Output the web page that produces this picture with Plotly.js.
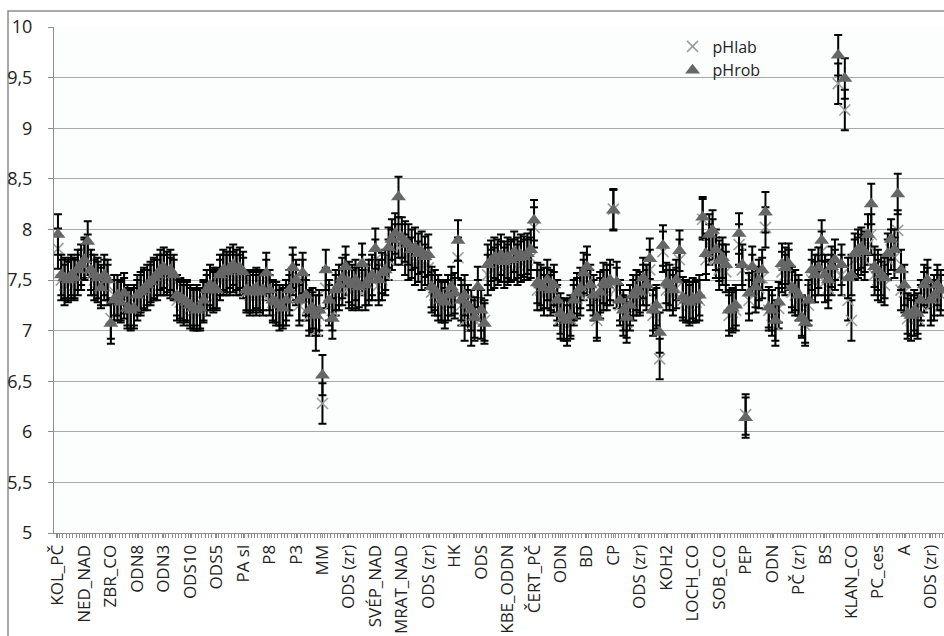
<!DOCTYPE html>
<html>
<head>
<meta charset="utf-8">
<script src="https://cdn.plot.ly/plotly-3.0.1.min.js"></script>
<style>
html,body{margin:0;padding:0;background:#fff;}
#chart{width:944px;height:636px;}
</style>
</head>
<body>
<div id="chart"></div>
<script>
// Tick labels (one label every 8 categories)
const tickLabels = ["KOL_PČ","NED_NAD","ZBR_CO","ODN8","ODN3","ODS10","ODS5","PA sl","P8","P3",
  "MM","ODS (zr)","SVÉP_NAD","MRAT_NAD","ODS (zr)","HK","ODS","KBE_ODDN","ČERT_PČ","ODN",
  "BD","CP","ODS (zr)","KOH2","LOCH_CO","SOB_CO","PEP","ODN","PČ (zr)","BS",
  "KLAN_CO","PC_ces","A","ODS (zr)"];
const labelStep = 8;

// pHrob values (triangles)
const pHrob = [
7.95,7.55,7.52,7.50,7.55,7.52,7.60,7.65,7.70,7.88,
7.60,7.55,7.52,7.42,7.55,7.50,7.07,7.30,7.35,7.28,
7.37,7.22,7.20,7.22,7.35,7.38,7.40,7.45,7.48,7.52,
7.55,7.60,7.62,7.58,7.60,7.55,7.35,7.32,7.30,7.28,
7.25,7.22,7.20,7.22,7.30,7.40,7.45,7.42,7.40,7.55,
7.60,7.58,7.62,7.65,7.60,7.62,7.58,7.40,7.38,7.40,
7.42,7.38,7.40,7.57,7.40,7.30,7.28,7.25,7.22,7.30,
7.40,7.62,7.50,7.30,7.57,7.35,7.20,7.22,7.15,7.20,
6.56,7.60,7.30,7.12,7.40,7.45,7.52,7.63,7.48,7.45,
7.50,7.43,7.66,7.45,7.50,7.55,7.81,7.50,7.57,7.60,
7.82,7.90,7.96,8.32,7.92,7.88,7.85,7.80,7.82,7.76,
7.78,7.73,7.75,7.43,7.40,7.35,7.30,7.28,7.35,7.43,
7.37,7.89,7.30,7.35,7.25,7.20,7.13,7.43,7.20,7.07,
7.65,7.69,7.72,7.70,7.75,7.68,7.72,7.70,7.78,7.72,
7.75,7.73,7.76,7.80,8.09,7.47,7.45,7.42,7.50,7.40,
7.45,7.30,7.17,7.12,7.10,7.15,7.30,7.37,7.42,7.57,
7.63,7.45,7.35,7.13,7.38,7.47,7.45,7.50,8.19,7.48,
7.30,7.20,7.13,7.25,7.35,7.40,7.38,7.52,7.45,7.71,
7.20,7.25,6.98,7.84,7.47,7.45,7.40,7.50,7.79,7.33,
7.30,7.28,7.32,7.30,7.35,8.12,7.76,7.95,7.99,7.80,
7.69,7.72,7.65,7.20,7.22,7.25,7.96,7.65,6.14,7.37,
7.63,7.43,7.50,7.60,8.17,7.23,7.20,7.10,7.28,7.66,
7.62,7.66,7.43,7.40,7.35,7.13,7.08,7.30,7.60,7.55,
7.62,7.89,7.55,7.50,7.63,7.70,9.72,7.65,9.49,7.52,
7.55,7.76,7.80,7.82,7.78,7.95,8.25,7.63,7.60,7.55,
7.52,7.76,7.90,7.80,8.35,7.60,7.45,7.17,7.15,7.20,
7.17,7.30,7.45,7.50,7.30,7.35,7.45,7.40
];

// pHlab values (crosses)
const pHlab = [
7.81,7.50,7.45,7.48,7.52,7.50,7.55,7.60,7.72,7.75,
7.55,7.50,7.48,7.45,7.50,7.45,7.12,7.35,7.30,7.30,
7.32,7.25,7.22,7.25,7.30,7.35,7.42,7.40,7.45,7.50,
7.50,7.55,7.55,7.55,7.52,7.50,7.30,7.28,7.25,7.30,
7.22,7.20,7.25,7.20,7.28,7.35,7.40,7.38,7.42,7.50,
7.55,7.55,7.55,7.58,7.55,7.55,7.52,7.38,7.35,7.38,
7.35,7.40,7.35,7.50,7.35,7.28,7.25,7.20,7.25,7.25,
7.35,7.55,7.45,7.25,7.50,7.30,7.15,7.18,7.00,7.15,
6.28,7.42,7.25,7.20,7.35,7.40,7.45,7.55,7.42,7.40,
7.42,7.40,7.55,7.40,7.45,7.50,7.70,7.45,7.50,7.55,
7.70,7.80,7.85,7.92,7.85,7.75,7.70,7.72,7.65,7.68,
7.60,7.65,7.62,7.38,7.35,7.30,7.28,7.22,7.30,7.35,
7.32,7.72,7.25,7.10,7.20,7.05,7.10,7.30,7.12,7.10,
7.55,7.60,7.62,7.65,7.68,7.62,7.65,7.68,7.70,7.65,
7.68,7.70,7.70,7.72,8.02,7.40,7.40,7.35,7.42,7.35,
7.38,7.25,7.12,7.10,7.05,7.12,7.25,7.32,7.35,7.50,
7.55,7.40,7.30,7.10,7.32,7.40,7.40,7.45,8.20,7.42,
7.25,7.15,7.08,7.20,7.30,7.35,7.35,7.45,7.40,7.60,
7.15,7.22,6.72,7.78,7.40,7.40,7.35,7.42,7.70,7.30,
7.28,7.25,7.28,7.28,7.30,8.10,7.70,7.85,7.90,7.72,
7.60,7.65,7.58,7.15,7.18,7.20,7.85,7.60,6.17,7.30,
7.55,7.38,7.42,7.52,8.02,7.20,7.15,7.05,7.22,7.58,
7.55,7.60,7.38,7.35,7.30,7.15,7.05,7.25,7.50,7.48,
7.55,7.78,7.48,7.42,7.55,7.60,9.44,7.55,9.18,7.30,
7.10,7.70,7.72,7.75,7.70,7.85,7.95,7.55,7.50,7.48,
7.45,7.70,7.80,7.72,7.99,7.40,7.38,7.12,7.10,7.15,
7.12,7.25,7.38,7.42,7.25,7.30,7.40,7.35
];

const errValue = 0.2;

const xs = pHrob.map((_, i) => i);
const tickvals = tickLabels.map((_, k) => k * labelStep);

const font = "Open Sans";

const traces = [
  {
    type: 'scatter', mode: 'markers', name: 'pHlab',
    x: xs, y: pHlab,
    marker: {symbol: 'x-thin', size: 11, color: '#9c9c9c', line: {color: '#9c9c9c', width: 1.6}},
    error_y: {type: 'constant', value: errValue, color: '#000000', thickness: 2, width: 4}
  },
  {
    type: 'scatter', mode: 'markers', name: 'pHrob',
    x: xs, y: pHrob,
    marker: {symbol: 'triangle-up', size: 13, color: '#666666'},
    error_y: {type: 'constant', value: errValue, color: '#000000', thickness: 2, width: 4}
  }
];

const layout = {
  width: 944, height: 636,
  margin: {l: 54, r: 0, t: 27, b: 103},
  paper_bgcolor: '#ffffff',
  plot_bgcolor: '#fcfefe',
  separators: ', ',
  font: {family: font, size: 16, color: '#222222'},
  showlegend: true,
  legend: {
    x: 0.695, y: 0.995, xanchor: 'left', yanchor: 'top',
    bgcolor: 'rgba(0,0,0,0)', font: {family: font, size: 16, color: '#222'},
    itemwidth: 30, tracegroupgap: 0
  },
  xaxis: {
    range: [-1.2, 268],
    tickmode: 'array', tickvals: tickvals, ticktext: tickLabels,
    tickangle: -90, ticks: 'outside', ticklen: 4, tickcolor: '#8c8c8c',
    showgrid: false, zeroline: false,
    showline: true, linecolor: '#8c8c8c', linewidth: 1,
    tickfont: {family: font, size: 17, color: '#222'},
    minor: {tickmode: 'linear', tick0: 0.5, dtick: 1, ticks: 'outside', ticklen: 4, tickcolor: '#8c8c8c', showgrid: false}
  },
  yaxis: {
    range: [5, 10], dtick: 0.5, tick0: 5,
    ticks: 'outside', ticklen: 5, tickcolor: '#8c8c8c',
    ticklabelstandoff: 12,
    showgrid: true, gridcolor: '#a8a8a8', gridwidth: 1,
    zeroline: false, showline: true, linecolor: '#8c8c8c', linewidth: 1,
    tickfont: {family: font, size: 18, color: '#222'}
  },
  shapes: [
    {type: 'rect', xref: 'paper', yref: 'paper',
     x0: (8 - 54) / 890, x1: 1.02, y0: -0.25, y1: (533 - 11) / 506,
     line: {color: '#8c8c8c', width: 1.5}, fillcolor: 'rgba(0,0,0,0)', layer: 'below'}
  ]
};

Plotly.newPlot('chart', traces, layout, {displayModeBar: false, staticPlot: true});
</script>
</body>
</html>
